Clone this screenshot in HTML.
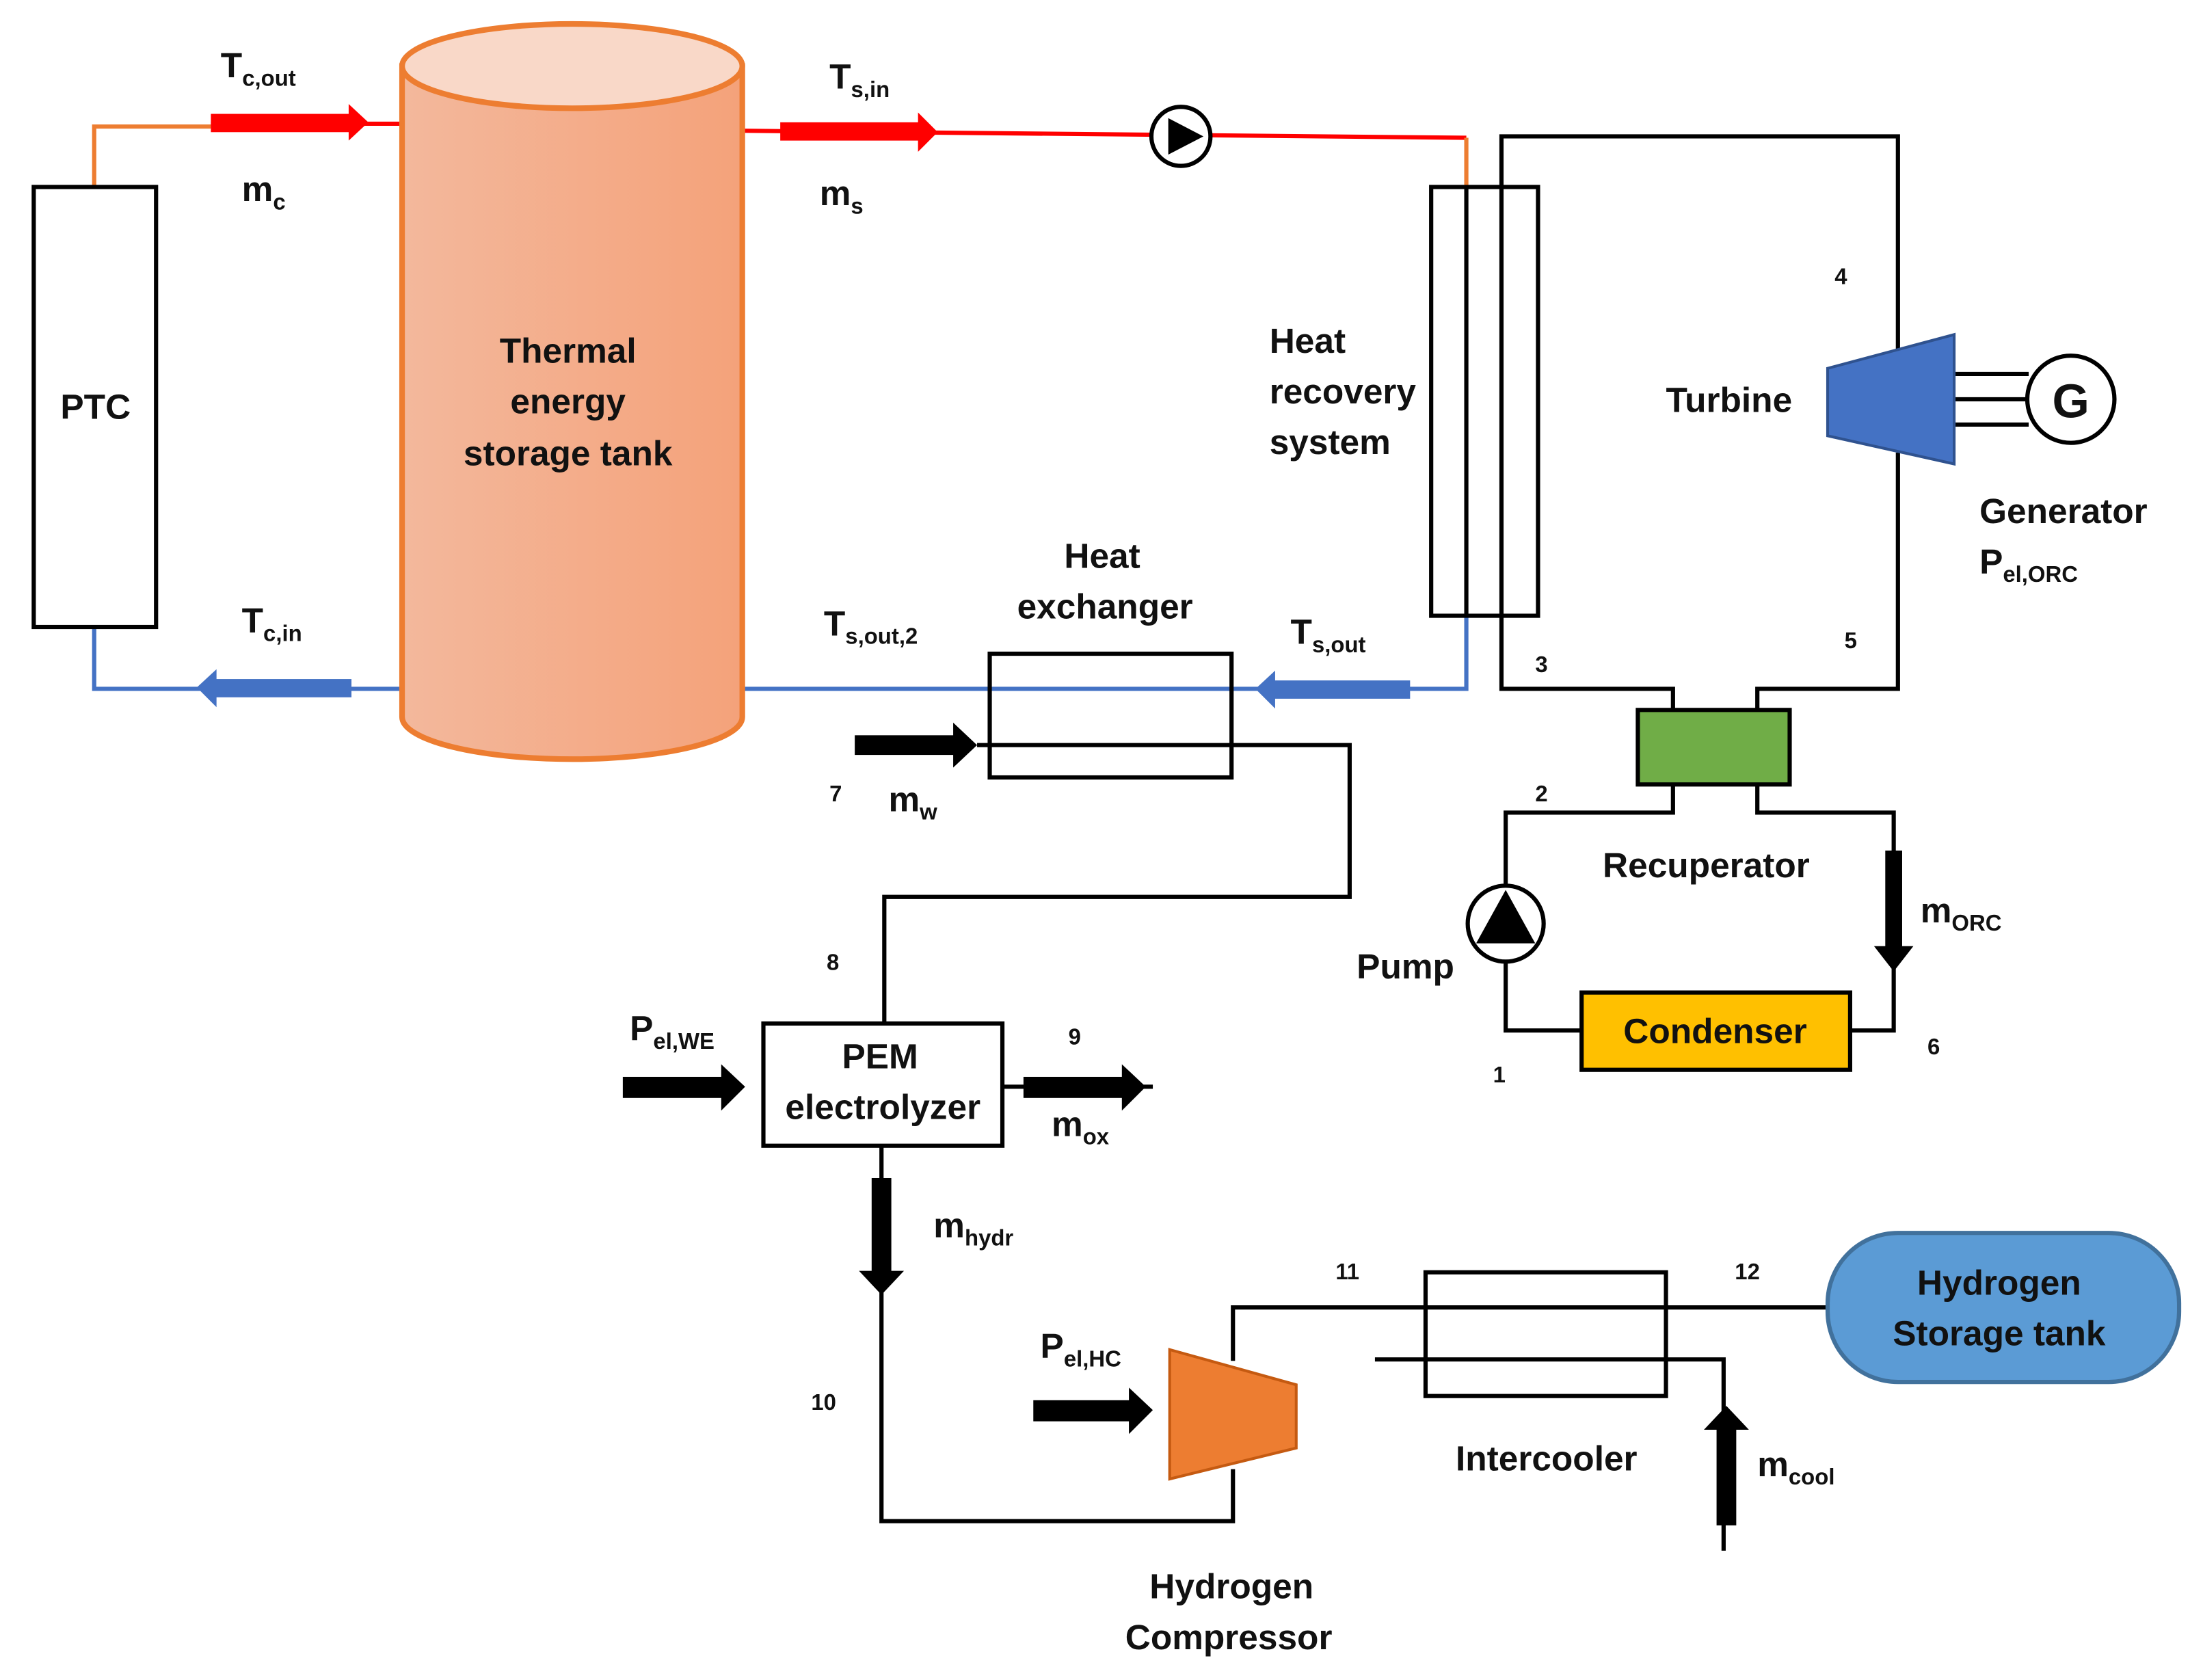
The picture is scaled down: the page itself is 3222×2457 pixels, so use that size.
<!DOCTYPE html>
<html><head><meta charset="utf-8"><style>
html,body{margin:0;padding:0;background:#fff;}
svg{display:block;}
text{font-family:"Liberation Sans",sans-serif;font-weight:bold;fill:#111;}
.L{font-size:25px;}
.n{font-size:16px;}
</style></head><body>
<svg width="3222" height="2457" viewBox="0 0 1567 1195" preserveAspectRatio="none" xmlns="http://www.w3.org/2000/svg">
<defs>
<linearGradient id="tg" x1="0" x2="1"><stop offset="0" stop-color="#f3b89c"/><stop offset="1" stop-color="#f4a27a"/></linearGradient>
</defs>
<polyline points="67,133 67,90 150,90" fill="none" stroke="#ed7d31" stroke-width="3"/>
<line x1="150" y1="88" x2="285" y2="88" stroke="#f00" stroke-width="3"/>
<rect x="150" y="81" width="100" height="13" fill="#f00"/><polygon points="248,74 262,87 248,100" fill="#f00"/>
<line x1="528" y1="93" x2="1043" y2="98" stroke="#f00" stroke-width="3"/>
<rect x="555" y="87" width="100" height="13" fill="#f00"/><polygon points="653,80 667,94 653,108" fill="#f00"/>
<line x1="1043" y1="98" x2="1043" y2="133" stroke="#ed7d31" stroke-width="3"/>
<circle cx="840" cy="97" r="21" fill="#fff" stroke="#000" stroke-width="3"/>
<polygon points="831,84 831,110 856,97" fill="#000"/>
<polyline points="67,446 67,490 285,490" fill="none" stroke="#4472c4" stroke-width="3"/>
<polyline points="528,490 1043,490 1043,438" fill="none" stroke="#4472c4" stroke-width="3"/>
<rect x="152" y="483" width="98" height="13" fill="#4472c4"/><polygon points="154,476 140,489 154,503" fill="#4472c4"/>
<rect x="905" y="484" width="98" height="13" fill="#4472c4"/><polygon points="907,477 893,490 907,504" fill="#4472c4"/>
<rect x="24" y="133" width="87" height="313" fill="#fff" stroke="#000" stroke-width="3"/>
<text x="68" y="298" class="L" text-anchor="middle">PTC</text>
<path d="M286,47 L286,510 A121,30 0 0 0 528,510 L528,47 Z" fill="url(#tg)" stroke="#ed7d31" stroke-width="4"/>
<ellipse cx="407" cy="47" rx="121" ry="30" fill="#f9d8c8" stroke="#ed7d31" stroke-width="4"/>
<text x="404" y="258" class="L" text-anchor="middle">Thermal</text>
<text x="404" y="294" class="L" text-anchor="middle">energy</text>
<text x="404" y="331" class="L" text-anchor="middle">storage tank</text>
<text x="157" y="55" class="L">T<tspan font-size="16" dy="6">c,out</tspan></text>
<text x="172" y="143" class="L">m<tspan font-size="16" dy="6">c</tspan></text>
<text x="590" y="63" class="L">T<tspan font-size="16" dy="6">s,in</tspan></text>
<text x="583" y="146" class="L">m<tspan font-size="16" dy="6">s</tspan></text>
<text x="172" y="450" class="L">T<tspan font-size="16" dy="6">c,in</tspan></text>
<text x="586" y="452" class="L">T<tspan font-size="16" dy="6">s,out,2</tspan></text>
<text x="918" y="458" class="L">T<tspan font-size="16" dy="6">s,out</tspan></text>
<g fill="none" stroke="#000" stroke-width="3">
<polyline points="1068,133 1068,97 1350,97 1350,250"/>
<polyline points="1350,322 1350,490 1250,490 1250,505"/>
<polyline points="1068,438 1068,490 1190,490 1190,505"/>
<polyline points="1190,558 1190,578 1071,578 1071,733 1125,733"/>
<polyline points="1316,733 1347,733 1347,578 1250,578 1250,558"/>
<line x1="1390" y1="266" x2="1443" y2="266"/><line x1="1390" y1="284" x2="1441" y2="284"/><line x1="1390" y1="302" x2="1443" y2="302"/>
</g>
<rect x="1018" y="133" width="76" height="305" fill="#fff" stroke="#000" stroke-width="3"/>
<line x1="1043" y1="133" x2="1043" y2="438" stroke="#000" stroke-width="3"/>
<line x1="1068" y1="133" x2="1068" y2="438" stroke="#000" stroke-width="3"/>
<text x="903" y="251" class="L">Heat</text>
<text x="903" y="287" class="L">recovery</text>
<text x="903" y="323" class="L">system</text>
<polygon points="1300,262 1390,238 1390,330 1300,310" fill="#4472c4" stroke="#2f528f" stroke-width="2"/>
<circle cx="1473" cy="284" r="31" fill="#fff" stroke="#000" stroke-width="3"/>
<text x="1473" y="297" font-size="34" text-anchor="middle">G</text>
<text x="1185" y="293" class="L">Turbine</text>
<text x="1408" y="372" class="L">Generator</text>
<text x="1408" y="408" class="L">P<tspan font-size="16" dy="6">el,ORC</tspan></text>
<text x="1305" y="202" class="n">4</text>
<text x="1312" y="461" class="n">5</text>
<text x="1092" y="478" class="n">3</text>
<text x="1092" y="570" class="n">2</text>
<text x="1062" y="770" class="n">1</text>
<text x="1371" y="750" class="n">6</text>
<rect x="1165" y="505" width="108" height="53" fill="#70ad47" stroke="#000" stroke-width="3"/>
<text x="1140" y="624" class="L">Recuperator</text>
<circle cx="1071" cy="657" r="27" fill="#fff" stroke="#000" stroke-width="3"/>
<polygon points="1071,633 1050,671 1092,671" fill="#000"/>
<text x="965" y="696" class="L">Pump</text>
<rect x="1125" y="706" width="191" height="55" fill="#ffc000" stroke="#000" stroke-width="3"/>
<text x="1220" y="742" class="L" text-anchor="middle">Condenser</text>
<rect x="1341" y="605" width="12" height="70" fill="#000"/><polygon points="1333,673 1361,673 1347,691" fill="#000"/>
<text x="1366" y="656" class="L">m<tspan font-size="16" dy="6">ORC</tspan></text>
<rect x="704" y="465" width="172" height="88" fill="none" stroke="#000" stroke-width="3"/>
<text x="784" y="404" class="L" text-anchor="middle">Heat</text>
<text x="786" y="440" class="L" text-anchor="middle">exchanger</text>
<polyline points="695,530 960,530 960,638 629,638 629,728" fill="none" stroke="#000" stroke-width="3"/>
<rect x="608" y="523" width="72" height="14" fill="#000"/><polygon points="678,514 695,530 678,546" fill="#000"/>
<text x="590" y="570" class="n">7</text>
<text x="632" y="577" class="L">m<tspan font-size="16" dy="6">w</tspan></text>
<text x="588" y="690" class="n">8</text>
<rect x="543" y="728" width="170" height="87" fill="#fff" stroke="#000" stroke-width="3"/>
<text x="626" y="760" class="L" text-anchor="middle">PEM</text>
<text x="628" y="796" class="L" text-anchor="middle">electrolyzer</text>
<rect x="443" y="766" width="72" height="15" fill="#000"/><polygon points="513,757 530,773 513,790" fill="#000"/>
<text x="448" y="740" class="L">P<tspan font-size="16" dy="6">el,WE</tspan></text>
<line x1="713" y1="773" x2="820" y2="773" stroke="#000" stroke-width="3"/>
<rect x="728" y="766" width="72" height="15" fill="#000"/><polygon points="798,757 815,773 798,790" fill="#000"/>
<text x="760" y="743" class="n">9</text>
<text x="748" y="808" class="L">m<tspan font-size="16" dy="6">ox</tspan></text>
<polyline points="627,815 627,1082 877,1082 877,1045" fill="none" stroke="#000" stroke-width="3"/>
<rect x="620" y="838" width="14" height="68" fill="#000"/><polygon points="611,904 643,904 627,921" fill="#000"/>
<text x="664" y="880" class="L">m<tspan font-size="16" dy="6">hydr</tspan></text>
<text x="577" y="1003" class="n">10</text>
<polyline points="877,968 877,930 1300,930" fill="none" stroke="#000" stroke-width="3"/>
<polygon points="832,960 922,985 922,1030 832,1052" fill="#ed7d31" stroke="#c55a11" stroke-width="2"/>
<rect x="735" y="996" width="70" height="15" fill="#000"/><polygon points="803,987 820,1003 803,1020" fill="#000"/>
<text x="740" y="966" class="L">P<tspan font-size="16" dy="6">el,HC</tspan></text>
<text x="876" y="1137" class="L" text-anchor="middle">Hydrogen</text>
<text x="874" y="1173" class="L" text-anchor="middle">Compressor</text>
<text x="950" y="910" class="n">11</text>
<text x="1234" y="910" class="n">12</text>
<rect x="1014" y="905" width="171" height="88" fill="none" stroke="#000" stroke-width="3"/>
<polyline points="978,967 1226,967 1226,1103" fill="none" stroke="#000" stroke-width="3"/>
<rect x="1221" y="1015" width="14" height="70" fill="#000"/><polygon points="1212,1017 1244,1017 1228,1000" fill="#000"/>
<text x="1100" y="1046" class="L" text-anchor="middle">Intercooler</text>
<text x="1250" y="1050" class="L">m<tspan font-size="16" dy="6">cool</tspan></text>
<rect x="1300" y="877" width="250" height="106" rx="50" fill="#5b9bd5" stroke="#41719c" stroke-width="3"/>
<text x="1422" y="921" class="L" text-anchor="middle">Hydrogen</text>
<text x="1422" y="957" class="L" text-anchor="middle">Storage tank</text>
</svg>
</body></html>
